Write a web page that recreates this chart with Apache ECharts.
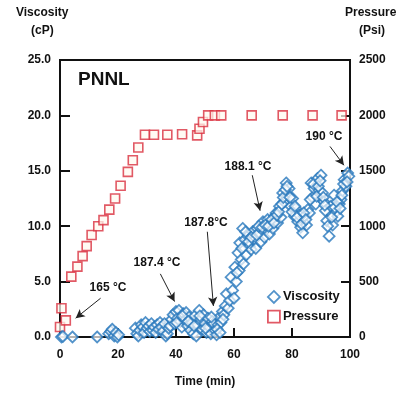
<!DOCTYPE html>
<html>
<head>
<meta charset="utf-8">
<script src="https://cdn.jsdelivr.net/npm/echarts@6/dist/echarts.min.js"></script>
<style>html,body{margin:0;padding:0;background:#fff;}#c{width:398px;height:394px;}</style>
</head>
<body>
<div id="c"></div>
<script>
// Data
var timeTicks = [0, 20, 40, 60, 80, 100];
var viscosityTicks = [0, 5, 10, 15, 20, 25];
var pressureTicks = [0, 500, 1000, 1500, 2000, 2500];

var pressureTime = [0, 0.5, 2, 3.9, 6, 7.8, 9.2, 10.9, 13.2, 15, 17, 19, 20.9, 23.4, 25.1, 27, 29.3, 32.4, 37, 42.1, 47.3, 48.1, 49.3, 51.1, 53.4, 55.6, 66.1, 76.8, 87.1, 97.1];
var pressureValue = [90, 260, 150, 545, 635, 730, 820, 920, 1000, 1055, 1150, 1250, 1365, 1490, 1595, 1710, 1825, 1825, 1825, 1830, 1820, 1880, 1940, 2000, 2000, 2000, 2000, 2000, 2000, 2000];

var viscosityTime = [0.5, 1, 4.3, 12.8, 16.8, 17.5, 18, 18.7, 19.3, 19.8, 20.2,
  26, 26.5, 27, 27.5, 28, 28.6, 29, 29.5, 30, 30.6, 31, 31.5, 32, 32.5, 33, 33.5, 34, 34.5, 35, 35.5, 36, 36.5, 37, 37.5, 38, 38.5, 39, 39.5, 40, 40.5,
  41, 41.5, 42, 42.5, 43, 43.5, 44, 44.5, 45, 45.5, 46, 46.5, 47, 47.5, 48, 48.5, 49, 49.5, 50, 50.5, 51, 51.5, 52, 52.5, 53, 53.5, 54, 54.5, 55, 55.5,
  56, 56.5, 57, 57.4, 58, 58.5, 59, 59.5, 60, 60.3, 60.8, 61.4, 61.8, 62, 62.5, 63, 63.3, 63.7, 64.2, 64.8, 65.3, 65.9, 66.4, 67, 67.5, 68, 68.8, 69.3,
  70, 70.5, 71, 71.6, 72.2, 72.8, 73.4, 74, 74.5, 75, 75.7, 76.2, 76.8, 77.3, 78, 78.5, 79, 79.6, 80.2, 80.8, 81.3, 82, 82.5, 83, 83.7, 84.3, 85, 85.5,
  86, 86.6, 87.1, 87.6, 88.2, 88.8, 89.4, 90, 90.5, 91, 91.5, 92, 92.8, 93.4, 94, 94.5, 95.2, 95.8, 96.3, 96.9, 97.4, 98, 98.6, 99.2, 99.6,
  61, 62.7, 64, 65, 66, 67.8, 68.5, 69.7, 70.8, 71.9, 73, 73.8, 74.8, 75.4, 76.5, 77, 77.7, 78.3, 79.3, 80, 81, 81.7, 83.3, 84, 84.8,
  86.3, 87.4, 88.5, 89.1, 89.7, 90.8, 91.3, 92.3, 93.7, 94.8, 95.5, 96.6, 97.2, 97.8, 99,
  40.2, 42.2, 44.2, 46.2, 48.2, 50.2, 52.2, 54.2, 55.2, 56.2];
var viscosityValue = [0, 0.05, 0, 0, 0.3, 0.5, 0.7, 0.1, 0.4, 0, 0.2,
  0.8, 0.3, 0.1, 0.6, 1.1, 0.9, 0.4, 1.3, 0.8, 1.0, 0.5, 1.2, 0.6, 0.9, 0.4, 1.1, 0.7, 1.3, 0.9, 0.5, 1.2, 0.1, 0.3, 0.8, 1.0, 1.6, 2.0, 1.2, 2.3, 1.7,
  2.4, 1.4, 0.9, 2.1, 1.5, 2.2, 1.0, 1.8, 0.6, 1.3, 0.3, 1.9, 0.1, 1.1, 2.4, 1.6, 0.7, 2.0, 1.2, 0.4, 1.7, 0.9, 0.3, 1.4, 1.2, 0.6, 0.2, 1.1, 1.8, 1.3,
  2.3, 2.0, 2.8, 3.9, 2.6, 3.3, 5.4, 4.2, 3.5, 6.3, 5.0, 7.6, 6.0, 8.5, 7.0, 9.8, 6.6, 8.8, 7.4, 9.1, 8.2, 7.9, 9.5, 8.8, 8.0, 9.8, 9.4, 8.6,
  10.4, 9.0, 9.7, 10.6, 9.3, 10.2, 9.8, 10.9, 11.2, 10.3, 11.8, 10.8, 13.0, 12.2, 13.9, 12.8, 13.4, 11.8, 12.5, 10.9, 11.6, 10.4, 11.0, 9.9, 9.4, 10.9, 10.1, 11.5,
  11.2, 13.9, 12.6, 13.4, 12.0, 14.3, 13.2, 14.6, 13.0, 12.2, 11.4, 10.5, 9.1, 11.8, 10.1, 12.8, 11.3, 10.9, 12.0, 12.4, 13.2, 14.2, 13.6, 14.8, 14.5,
  5.8, 8.0, 9.5, 8.6, 9.0, 9.2, 10.0, 9.9, 10.1, 10.0, 10.6, 10.3, 11.0, 11.3, 12.0, 12.6, 13.3, 13.6, 12.6, 11.3, 11.8, 10.8, 10.2, 11.2, 10.6,
  12.4, 13.8, 12.7, 13.6, 14.1, 12.6, 11.9, 10.0, 10.8, 11.7, 12.2, 11.6, 12.8, 13.8, 14.0,
  1.3, 1.9, 1.4, 1.0, 1.9, 0.8, 1.8, 0.7, 0.4, 1.6];

// Annotation arrows (data coordinates on time / viscosity scale)
var arrowFrom = [[14.0, 3.5], [34.6, 5.7], [50.8, 9.5], [66.3, 14.6], [93.1, 17.2]];
var arrowTo = [[5.4, 1.7], [39.5, 3.2], [52.9, 2.8], [69.0, 11.4], [97.9, 15.5]];
var arrowLabels = ['165 °C', '187.4 °C', '187.8°C', '188.1 °C', '190 °C'];

function zip(a, b) { return a.map(function (v, i) { return [v, b[i]]; }); }

var FONT = 'Liberation Sans, Arial, sans-serif';
var chart = echarts.init(document.getElementById('c'), null, { renderer: 'canvas' });

var labelPos = [[108, 288], [157, 263], [206, 223], [248, 167], [324, 137]];
var graphics = [
  { type: 'text', left: 16, top: 7, style: { text: 'Viscosity', font: 'bold 12px ' + FONT, fill: '#111' } },
  { type: 'text', left: 31, top: 25, style: { text: '(cP)', font: 'bold 12px ' + FONT, fill: '#111' } },
  { type: 'text', left: 345, top: 7, style: { text: 'Pressure', font: 'bold 12px ' + FONT, fill: '#111' } },
  { type: 'text', left: 359, top: 25, style: { text: '(Psi)', font: 'bold 12px ' + FONT, fill: '#111' } },
  { type: 'text', left: 78, top: 70, style: { text: 'PNNL', font: 'bold 19px ' + FONT, fill: '#111' } }
];
arrowLabels.forEach(function (t, i) {
  graphics.push({ type: 'text', x: labelPos[i][0], y: labelPos[i][1],
    style: { text: t, font: 'bold 12px ' + FONT, fill: '#111', align: 'center', verticalAlign: 'middle' } });
});

chart.setOption({
  animation: false,
  backgroundColor: '#fff',
  textStyle: { fontFamily: FONT },
  grid: { left: 60, right: 48, top: 60, bottom: 57, show: true, borderColor: '#111', borderWidth: 2, backgroundColor: 'transparent' },
  legend: {
    orient: 'vertical', left: 262, top: 285, itemWidth: 12, itemHeight: 12, itemGap: 6,
    textStyle: { fontFamily: FONT, fontWeight: 'bold', fontSize: 13, color: '#111', padding: [0, 0, 0, -2] },
    data: [
      { name: 'Viscosity', icon: 'diamond', itemStyle: { color: '#fff', borderColor: '#2878bd', borderWidth: 1.8 } },
      { name: 'Pressure', icon: 'rect', itemStyle: { color: '#fff', borderColor: '#d9303e', borderWidth: 1.8 } }
    ]
  },
  xAxis: {
    type: 'value', min: 0, max: 100, interval: 20,
    name: 'Time (min)', nameLocation: 'middle', nameGap: 39,
    nameTextStyle: { fontFamily: FONT, fontWeight: 'bold', fontSize: 12, color: '#111' },
    axisLine: { lineStyle: { color: '#111', width: 2 } },
    axisTick: { inside: true, length: 9, lineStyle: { color: '#111', width: 2 } },
    axisLabel: { margin: 12, fontFamily: FONT, fontWeight: 'bold', fontSize: 12, color: '#111',
      formatter: function (v) { return timeTicks.indexOf(v) >= 0 ? String(v) : ''; } },
    splitLine: { show: false }
  },
  yAxis: [
    {
      type: 'value', min: 0, max: 25, interval: 5, position: 'left',
      axisLine: { show: true, lineStyle: { color: '#111', width: 2 } },
      axisTick: { show: true, inside: true, length: 10, lineStyle: { color: '#111', width: 2 } },
      axisLabel: { margin: 9, fontFamily: FONT, fontWeight: 'bold', fontSize: 12, color: '#111',
        formatter: function (v) { return viscosityTicks.indexOf(v) >= 0 ? v.toFixed(1) : ''; } },
      splitLine: { show: false }
    },
    {
      type: 'value', min: 0, max: 2500, interval: 500, position: 'right',
      axisLine: { show: true, lineStyle: { color: '#111', width: 2 } },
      axisTick: { show: true, inside: true, length: 9, lineStyle: { color: '#111', width: 2 } },
      axisLabel: { margin: 9, fontFamily: FONT, fontWeight: 'bold', fontSize: 12, color: '#111',
        formatter: function (v) { return pressureTicks.indexOf(v) >= 0 ? String(v) : ''; } },
      splitLine: { show: false }
    }
  ],
  series: [
    {
      name: 'Viscosity', type: 'scatter', yAxisIndex: 0, symbol: 'diamond', symbolSize: 11,
      itemStyle: { color: 'rgba(255,255,255,0.85)', borderColor: '#2878bd', borderWidth: 1.8 },
      data: zip(viscosityTime, viscosityValue),
      z: 3,
      markLine: {
        silent: true, symbol: ['none', 'arrow'], symbolSize: [7, 9],
        lineStyle: { color: '#222', width: 1, type: 'solid' },
        label: { show: false },
        data: arrowFrom.map(function (p, i) { return [{ coord: p }, { coord: arrowTo[i] }]; })
      }
    },
    {
      name: 'Pressure', type: 'scatter', yAxisIndex: 1, symbol: 'rect', symbolSize: 9,
      itemStyle: { color: 'rgba(255,250,240,0.9)', borderColor: '#d9303e', borderWidth: 1.6 },
      data: zip(pressureTime, pressureValue),
      z: 2
    }
  ],
  graphic: graphics
});
</script>
</body>
</html>
